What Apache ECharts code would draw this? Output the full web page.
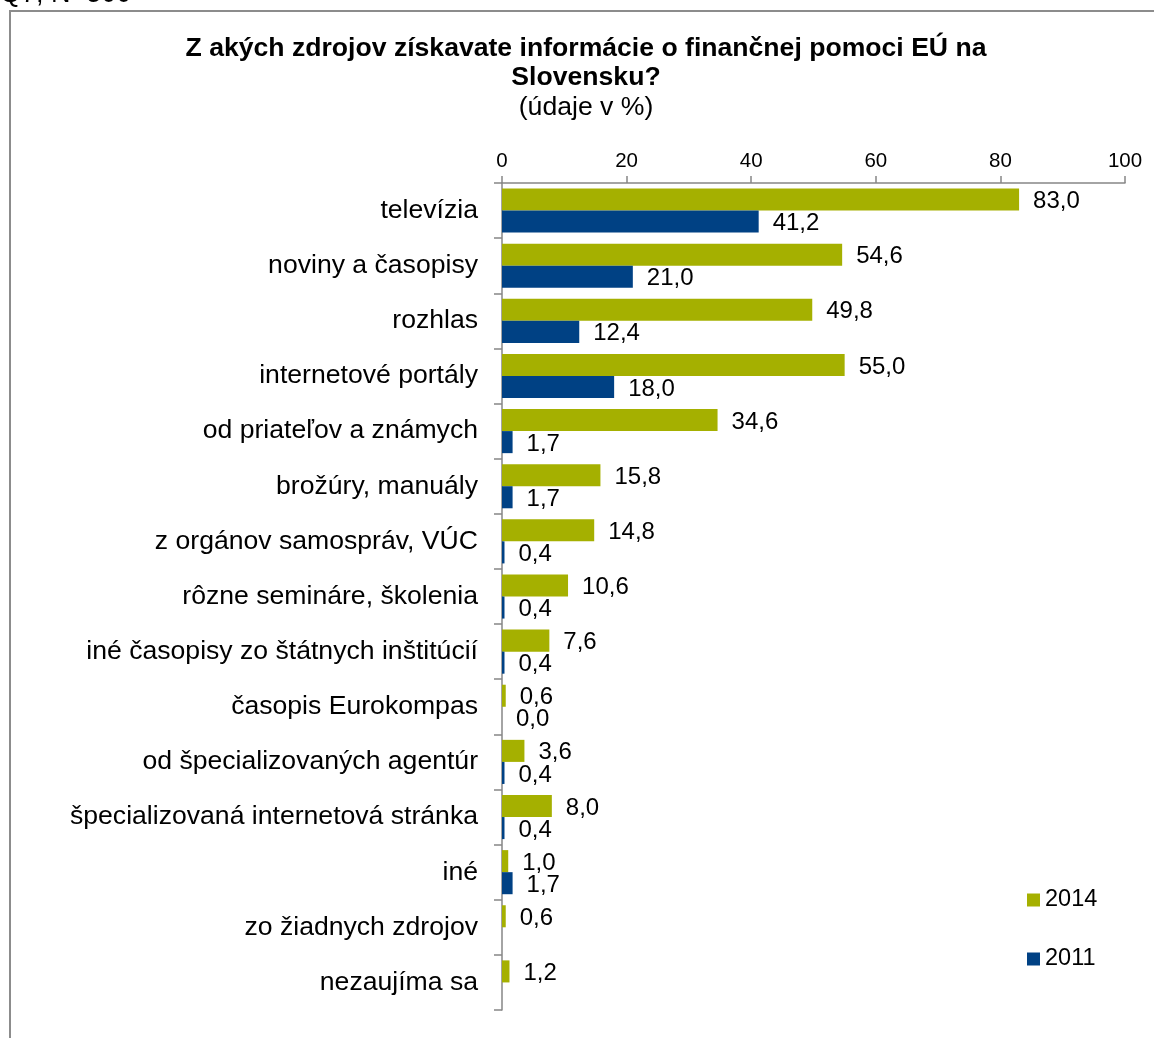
<!DOCTYPE html>
<html><head><meta charset="utf-8">
<script src="https://cdn.jsdelivr.net/npm/echarts@6/dist/echarts.min.js"></script>
<style>html,body{margin:0;padding:0;background:#fff}#c{width:1154px;height:1038px}</style>
</head><body><div id="c"></div>
<script>
const categories = ["televízia","noviny a časopisy","rozhlas","internetové portály","od priateľov a známych","brožúry, manuály","z orgánov samospráv, VÚC","rôzne semináre, školenia","iné časopisy zo štátnych inštitúcií","časopis Eurokompas","od špecializovaných agentúr","špecializovaná internetová stránka","iné","zo žiadnych zdrojov","nezaujíma sa"];
const values2014 = [83.0,54.6,49.8,55.0,34.6,15.8,14.8,10.6,7.6,0.6,3.6,8.0,1.0,0.6,1.2];
const values2011 = [41.2,21.0,12.4,18.0,1.7,1.7,0.4,0.4,0.4,0.0,0.4,0.4,1.7,null,null];
const xTicks = [0,20,40,60,80,100];

const font = "'Liberation Sans', Arial, sans-serif";
const chart = echarts.init(document.getElementById('c'), null, {renderer:'canvas'});
const lbl = {show:true, position:'right', distance:14, offset:[0,2], color:'#000', fontSize:24, fontFamily:font,
  formatter:p => p.value==null ? '' : p.value.toFixed(1).replace('.', ',')};
const legText = {fontSize:23.5, fontFamily:font, color:'#000', padding:[0,0,0,0]};
chart.setOption({
  animation:false,
  graphic:[
    {type:'rect', shape:{x:10,y:11,width:1300,height:1300}, style:{fill:null, stroke:'#8c8c8c', lineWidth:2}},
    {type:'text', x:0, y:8, style:{text:'Q7, N=500', font:'27px '+font, fill:'#000', verticalAlign:'bottom'}},
    {type:'text', x:586, y:49, style:{text:'Z akých zdrojov získavate informácie o finančnej pomoci EÚ na', font:'bold 26.6px '+font, fill:'#000', align:'center', verticalAlign:'middle'}},
    {type:'text', x:586, y:78, style:{text:'Slovensku?', font:'bold 26.6px '+font, fill:'#000', align:'center', verticalAlign:'middle'}},
    {type:'text', x:586, y:108, style:{text:'(údaje v %)', font:'26.6px '+font, fill:'#000', align:'center', verticalAlign:'middle'}}
  ],
  legend:[
    {left:1022, top:883, itemWidth:13, itemHeight:13, icon:'rect', textStyle:legText, data:['2014']},
    {left:1022, top:942, itemWidth:13, itemHeight:13, icon:'rect', textStyle:legText, data:['2011']}
  ],
  grid:{left:502, right:29, top:183, bottom:28, containLabel:false},
  xAxis:{type:'value', position:'top', min:0, max:100, interval:20,
    axisLine:{show:true, lineStyle:{color:'#868686', width:1.5}},
    axisTick:{show:true, length:7, lineStyle:{color:'#868686', width:1.5}},
    axisLabel:{fontSize:20.5, fontFamily:font, color:'#000', margin:11, formatter:v=>xTicks.includes(v)?String(v):''},
    splitLine:{show:false}},
  yAxis:{type:'category', inverse:true, data:categories,
    axisLine:{show:true, lineStyle:{color:'#868686', width:1.5}},
    axisTick:{show:true, length:8, lineStyle:{color:'#868686', width:1.5}},
    axisLabel:{fontSize:26.6, fontFamily:font, color:'#000', margin:24}},
  series:[
    {name:'2014', type:'bar', data:values2014, itemStyle:{color:'#a5b000'}, barGap:'0%', barCategoryGap:'20%', label:lbl},
    {name:'2011', type:'bar', data:values2011, itemStyle:{color:'#004184'}, barGap:'0%', barCategoryGap:'20%', label:lbl}
  ]
});
</script></body></html>
